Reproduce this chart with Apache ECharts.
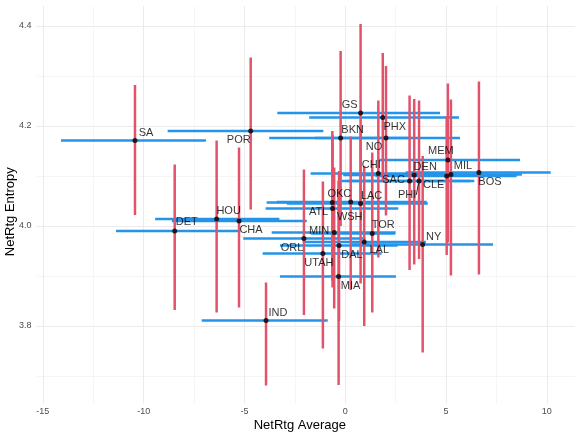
<!DOCTYPE html>
<html>
<head>
<meta charset="utf-8">
<script src="https://cdn.jsdelivr.net/npm/echarts@6/dist/echarts.min.js"></script>
<style>html,body{margin:0;padding:0;background:#fff;}#chart{width:581px;height:436px;}</style>
</head>
<body>
<div id="chart"></div>
<script>
// ---- data ----
const teams = ['SA','POR','GS','PHX','NO','BKN','MEM','CHI','DEN','MIL','SAC','CLE','PHI','BOS','HOU','CHA','DET','OKC','WSH','LAC','ATL','MIN','TOR','ORL','LAL','DAL','NY','UTAH','MIA','IND'];
const netAvg = [-10.43,-4.69,0.76,1.86,2.02,-0.23,5.09,1.64,3.42,5.24,3.19,5.03,3.66,6.63,-6.38,-5.27,-8.46,-0.64,0.27,0.76,-0.63,-0.55,1.34,-2.05,0.94,-0.31,3.84,-1.11,-0.33,-3.93];
const netEnt = [4.171,4.190,4.226,4.217,4.176,4.176,4.132,4.105,4.102,4.103,4.090,4.100,4.090,4.107,4.014,4.010,3.990,4.047,4.048,4.045,4.035,3.987,3.985,3.975,3.968,3.961,3.963,3.945,3.899,3.811];
const avgLow  = [-14.10,-8.81,-3.37,-1.79,-1.50,-3.77,1.59,-1.72,-0.10,1.70,-0.18,1.50,0.10,3.00,-9.43,-8.60,-11.37,-3.90,-3.40,-2.90,-3.95,-3.65,-1.70,-5.06,-2.10,-3.24,0.30,-4.10,-3.24,-7.12];
const avgHigh = [-6.91,-1.09,4.70,5.64,5.69,3.30,8.67,5.00,7.00,8.76,6.20,8.50,6.40,10.19,-3.27,-1.91,-5.30,2.90,4.04,4.09,2.63,2.50,2.47,1.00,4.00,2.60,7.33,1.80,2.51,-0.87];
const entLow  = [4.022,4.033,4.050,4.090,4.021,4.000,3.967,3.937,3.923,3.901,3.912,3.942,3.934,3.903,3.827,3.837,3.832,3.890,3.872,3.885,3.877,3.835,3.827,3.822,3.800,3.810,3.747,3.755,3.682,3.681];
const entHigh = [4.282,4.337,4.404,4.346,4.320,4.350,4.285,4.251,4.254,4.253,4.261,4.220,4.251,4.289,4.171,4.157,4.123,4.190,4.179,4.200,4.182,4.117,4.147,4.113,4.120,4.110,4.140,4.089,4.090,3.887];
const xTickLabels = ['-15','-10','-5','0','5','10'];
const yTickLabels = ['3.8','4.0','4.2','4.4'];

// label placement (pixel offsets of label centre from its point)
const labelOffsets = {
  SA:[11,-8], POR:[-12,9], GS:[-11,-8], PHX:[12,9], NO:[-12,9], BKN:[12,-8], MEM:[-7,-9], CHI:[-7,-9],
  DEN:[11,-8], MIL:[12,-9], SAC:[-16,-1], CLE:[-13,9], PHI:[-12,14], BOS:[11,9], HOU:[12,-8], CHA:[12,9],
  DET:[12,-9], OKC:[7,-9], WSH:[-1,15], LAC:[11,-8], ATL:[-14,3], MIN:[-15,-2], TOR:[11,-9], ORL:[-12,9],
  LAL:[15,8], DAL:[13,9], NY:[11,-8], UTAH:[-4,9], MIA:[12,9], IND:[12,-8]
};

const BLUE = '#2394EA', RED = '#E2536B';
const FONT = 'Liberation Sans, Arial, sans-serif';

const hData = teams.map((t,i)=>[avgLow[i], avgHigh[i], netEnt[i]]);
const vData = teams.map((t,i)=>[netAvg[i], entLow[i], entHigh[i]]);
const pData = teams.map((t,i)=>({
  value:[netAvg[i], netEnt[i]], name:t,
  labelLine: { show: t === 'PHI', lineStyle:{color:'#000', width:0.8} }
}));

const chart = echarts.init(document.getElementById('chart'), null, {renderer:'canvas'});
const gridCol = '#ebebeb';
chart.setOption({
  animation:false,
  backgroundColor:'#fff',
  grid:{left:36.6, right:5.9, top:6, bottom:32.5, containLabel:false, outerBoundsMode:'none'},
  xAxis:{
    type:'value', min:-15.31, max:11.4, splitNumber:5,
    name:'NetRtg Average', nameLocation:'middle', nameGap:15, nameMoveOverlap:false,
    nameTextStyle:{color:'#000', fontSize:13, fontFamily:FONT, padding:[0,12,0,0]},
    axisLine:{show:false}, axisTick:{show:false},
    axisLabel:{color:'#4d4d4d', fontSize:9, fontFamily:FONT, margin:4, showMinLabel:false, showMaxLabel:false,
      formatter:v=>{const s=xTickLabels.find(l=>Math.abs(parseFloat(l)-v)<1e-6);return s===undefined?'':s;}},
    splitLine:{show:true, showMinLine:false, showMaxLine:false, lineStyle:{color:gridCol, width:1}},
    minorTick:{show:false, splitNumber:2},
    minorSplitLine:{show:true, lineStyle:{color:'#f3f3f3', width:0.8}}
  },
  yAxis:{
    type:'value', min:3.645, max:4.44, splitNumber:4,
    name:'NetRtg Entropy', nameLocation:'middle', nameGap:20, nameMoveOverlap:false,
    nameTextStyle:{color:'#000', fontSize:13, fontFamily:FONT, padding:[0,14,0,0]},
    axisLine:{show:false}, axisTick:{show:false},
    axisLabel:{color:'#4d4d4d', fontSize:9, fontFamily:FONT, margin:5, showMinLabel:false, showMaxLabel:false,
      formatter:v=>{const s=yTickLabels.find(l=>Math.abs(parseFloat(l)-v)<1e-6);return s===undefined?'':s;}},
    splitLine:{show:true, showMinLine:false, showMaxLine:false, lineStyle:{color:gridCol, width:1}},
    minorTick:{show:false, splitNumber:2},
    minorSplitLine:{show:true, lineStyle:{color:'#f3f3f3', width:0.8}}
  },
  series:[
    {
      type:'custom', data:hData, encode:{x:[0,1], y:2}, z:2, silent:true,
      renderItem:(params, api)=>{
        const p1 = api.coord([api.value(0), api.value(2)]);
        const p2 = api.coord([api.value(1), api.value(2)]);
        return {type:'line', shape:{x1:p1[0], y1:p1[1], x2:p2[0], y2:p2[1]},
          style:{stroke:BLUE, lineWidth:2.4, lineCap:'butt'}};
      }
    },
    {
      type:'custom', data:vData, encode:{x:0, y:[1,2]}, z:3, silent:true,
      renderItem:(params, api)=>{
        const p1 = api.coord([api.value(0), api.value(1)]);
        const p2 = api.coord([api.value(0), api.value(2)]);
        return {type:'line', shape:{x1:p1[0], y1:p1[1], x2:p2[0], y2:p2[1]},
          style:{stroke:RED, lineWidth:2.5, lineCap:'butt'}};
      }
    },
    {
      type:'scatter', data:pData, z:4, symbol:'circle', symbolSize:5,
      itemStyle:{color:'#000'},
      label:{show:true, position:'inside', formatter:p=>p.name, color:'#000', fontSize:11, fontFamily:FONT},
      labelLine:{show:false},
      labelLayout:(p)=>{const o=labelOffsets[teams[p.dataIndex]];return {dx:o[0], dy:o[1]};}
    }
  ]
});
</script>
</body>
</html>
